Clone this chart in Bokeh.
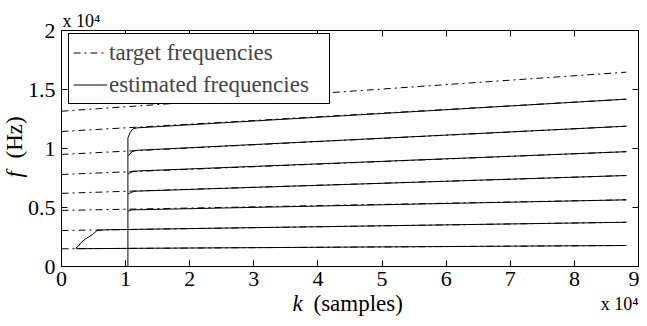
from bokeh.plotting import figure
from bokeh.models import LinearAxis, FixedTicker, Legend, LegendItem, Title, Range1d
from bokeh.embed import file_html
from bokeh.resources import INLINE

# ---------------- data ----------------
k_span = [0, 88100]
target_start = [1500, 3050, 4750, 6200, 7800, 9500, 11440, 13160]
target_end = [1780, 3750, 5650, 7710, 9730, 11890, 14180, 16470]

est1_k = [2300, 88100]
est1_f = [1510, 1780]
est2_k = [2210, 2630, 2980, 3760, 4790, 5560, 6850, 88100]
est2_f = [1550, 1720, 2000, 2350, 2690, 3050, 3110, 3750]
est3_k = [10400, 11000, 88100]
est3_f = [4700, 4800, 5650]
est4_k = [10400, 11300, 88100]
est4_f = [6150, 6380, 7710]
est5_k = [10400, 11200, 88100]
est5_f = [7850, 8080, 9730]
est6_k = [10400, 10900, 11500, 88100]
est6_f = [9350, 9700, 9840, 11890]
est7_k = [10360, 10360, 10700, 11100, 11800, 88100]
est7_f = [0, 10900, 11350, 11650, 11750, 14180]

x_ticks = [0, 10000, 20000, 30000, 40000, 50000, 60000, 70000, 80000, 90000]
x_tick_labels = ["0", "1", "2", "3", "4", "5", "6", "7", "8", "9"]
y_ticks = [0, 5000, 10000, 15000, 20000]
y_tick_labels = ["0", "0.5", "1", "1.5", "2"]
x_label_var, x_label_unit = "k", "(samples)"
y_label_var, y_label_unit = "f", "(Hz)"
multiplier = "x 10\u2074"

FONT = "Times New Roman"

p = figure(width=639, height=318, x_range=Range1d(0, 90000), y_range=Range1d(0, 20000),
           output_backend="svg", toolbar_location=None,
           min_border_left=61, min_border_right=1, min_border_top=30, min_border_bottom=52)
p.grid.visible = False
p.outline_line_color = "black"
p.background_fill_color = "white"
p.border_fill_color = "white"


def style_axis(ax, ticks, labels, show_labels, standoff):
    ax.ticker = FixedTicker(ticks=ticks)
    if show_labels:
        ax.major_label_overrides = {t: l for t, l in zip(ticks, labels)}
    else:
        ax.major_label_overrides = {t: "" for t in ticks}
    ax.major_label_text_font = FONT
    ax.major_label_text_font_size = "22px"
    ax.major_label_text_color = "black"
    ax.major_label_standoff = standoff
    ax.major_tick_in = 6
    ax.major_tick_out = 0
    ax.minor_tick_line_color = None
    ax.axis_line_color = "black"
    ax.major_tick_line_color = "black"


def spacer_axis(ticks, size):
    ax = LinearAxis(ticker=FixedTicker(ticks=ticks[:1]))
    ax.major_label_overrides = {ticks[0]: ""}
    ax.major_label_standoff = 0
    ax.major_tick_in = 0
    ax.major_tick_out = size
    ax.major_tick_line_color = None
    ax.minor_tick_line_color = None
    ax.axis_line_color = None
    return ax


style_axis(p.xaxis[0], x_ticks, x_tick_labels, True, 5)
style_axis(p.yaxis[0], y_ticks, y_tick_labels, True, 6)

top_ax = LinearAxis()
style_axis(top_ax, x_ticks, x_tick_labels, False, 0)
p.add_layout(top_ax, "above")
right_ax = LinearAxis()
style_axis(right_ax, y_ticks, y_tick_labels, False, 0)
p.add_layout(right_ax, "right")

# spacers that set where the zero-size titles below / left are anchored
p.add_layout(spacer_axis(x_ticks, 15), "below")
p.add_layout(spacer_axis(y_ticks, 10), "left")


def side_text(text, side, align, offset, valign, size, style="normal", standoff=-60):
    t = Title(text=text, align=align, offset=offset, standoff=standoff, vertical_align=valign,
              text_font=FONT, text_font_size=size, text_font_style=style, text_color="black")
    p.add_layout(t, side)


# axis labels
side_text(x_label_var, "below", "left", 231, "middle", "23px", "italic")
side_text(x_label_unit, "below", "left", 252, "middle", "23px")
side_text(y_label_var, "left", "left", 89, "middle", "23px", "italic")
side_text(y_label_unit, "left", "left", 108, "middle", "23px")
# multipliers ("x 10^4")
side_text(multiplier, "below", "right", 0, "middle", "18px")
side_text(multiplier, "above", "left", 1, "bottom", "18px", standoff=0)

# target frequencies (dash-dot)
target_renderers = []
for fs, fe in zip(target_start, target_end):
    r = p.line(k_span, [fs, fe], line_color="black", line_width=1, line_dash="7 4 2 4")
    target_renderers.append(r)

# estimated frequencies (solid)
est_renderers = []
for kk, ff in [(est1_k, est1_f), (est2_k, est2_f), (est3_k, est3_f), (est4_k, est4_f),
               (est5_k, est5_f), (est6_k, est6_f), (est7_k, est7_f)]:
    r = p.line(kk, ff, line_color="black", line_width=1)
    est_renderers.append(r)

legend = Legend(items=[LegendItem(label="target frequencies", renderers=[target_renderers[0]]),
                       LegendItem(label="estimated frequencies", renderers=[est_renderers[0]])],
                location=(7, 162), margin=0, padding=4, spacing=3,
                glyph_width=34, glyph_height=29, label_height=29, label_standoff=2,
                label_width=216, label_text_font=FONT, label_text_font_size="23px",
                border_line_color="black", border_line_width=1, border_line_alpha=1,
                background_fill_color="white", background_fill_alpha=1)
p.add_layout(legend)

open("out.html", "w").write(file_html(p, INLINE))
